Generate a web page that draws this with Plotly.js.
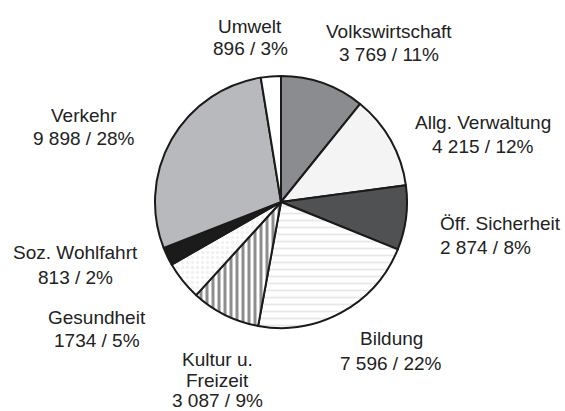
<!DOCTYPE html>
<html>
<head>
<meta charset="utf-8">
<script src="https://cdn.plot.ly/plotly-3.0.1.min.js"></script>
<style>html,body{margin:0;padding:0;background:#fff;}#chart{width:565px;height:411px;}</style>
</head>
<body>
<div id="chart"></div>
<script>
// Data
const categories = ["Volkswirtschaft", "Allg. Verwaltung", "Öff. Sicherheit", "Bildung", "Kultur u.<br>Freizeit", "Gesundheit", "Soz. Wohlfahrt", "Verkehr", "Umwelt"];
const values = [3769, 4215, 2874, 7596, 3087, 1734, 813, 9898, 896];
const valueLabels = ["3 769", "4 215", "2 874", "7 596", "3 087", "1734", "813", "9 898", "896"];
const percentLabels = ["11%", "12%", "8%", "22%", "9%", "5%", "2%", "28%", "3%"];

// Styles
const fills = ["#8b8c8f", "#f4f4f4", "#505153", "#ffffff", "#ffffff", "#ffffff", "#1b1b1b", "#b8b9bc", "#ffffff"];
const patShape = ["", "", "", "-", "|", ".", "", "", ""];
const patFg = ["#8b8c8f", "#f4f4f4", "#505153", "#e8e8e8", "#8e8e8e", "#f1f1f1", "#1b1b1b", "#b8b9bc", "#ffffff"];
const patBg = ["#8b8c8f", "#f4f4f4", "#505153", "#ffffff", "#ffffff", "#ffffff", "#1b1b1b", "#b8b9bc", "#ffffff"];
const patSize = [8, 8, 8, 7, 6, 5, 8, 8, 8];
const patSolid = [0.3, 0.3, 0.3, 0.25, 0.5, 0.35, 0.3, 0.3, 0.3];

// Label placement (pixels in the 565x411 frame): x, y of each line, alignment
const labelPos = [
  {x: 389, ys: [31, 55], a: "center"},
  {x: 483, ys: [123, 146], a: "center"},
  {x: 438, ys: [223, 247], a: "left"},
  {x: 391, ys: [338, 363], a: "center"},
  {x: 217, ys: [359, 380, 400], a: "center"},
  {x: 97, ys: [317, 340], a: "center"},
  {x: 75, ys: [252, 277], a: "center"},
  {x: 84, ys: [115, 138], a: "center"},
  {x: 250, ys: [26, 49], a: "center"}
];

const W = 565, H = 411;
const cx = 281, cy = 202, r = 126;

const trace = {
  type: "pie",
  labels: categories,
  values: values,
  sort: false,
  direction: "clockwise",
  rotation: 0,
  textinfo: "none",
  hoverinfo: "skip",
  showlegend: false,
  domain: {
    x: [(cx - r) / W, (cx + r) / W],
    y: [1 - (cy + r) / H, 1 - (cy - r) / H]
  },
  marker: {
    colors: fills,
    line: {color: "#1a1a1a", width: 2},
    pattern: {
      shape: patShape,
      fgcolor: patFg,
      bgcolor: patBg,
      size: patSize,
      solidity: patSolid,
      fillmode: "replace"
    }
  }
};

const annotations = [];
categories.forEach((c, i) => {
  const lines = c.split("<br>").concat([valueLabels[i] + " / " + percentLabels[i]]);
  lines.forEach((t, j) => {
    annotations.push({
      xref: "paper", yref: "paper",
      x: labelPos[i].x / W,
      y: 1 - labelPos[i].ys[j] / H,
      xanchor: labelPos[i].a,
      yanchor: "middle",
      align: labelPos[i].a,
      showarrow: false,
      text: t,
      font: {family: "Liberation Sans, Arial, sans-serif", size: 19, color: "#222222"}
    });
  });
});

const layout = {
  width: W, height: H,
  margin: {l: 0, r: 0, t: 0, b: 0},
  paper_bgcolor: "#ffffff",
  plot_bgcolor: "#ffffff",
  annotations: annotations
};

Plotly.newPlot("chart", [trace], layout, {displayModeBar: false, staticPlot: true});
</script>
</body>
</html>
